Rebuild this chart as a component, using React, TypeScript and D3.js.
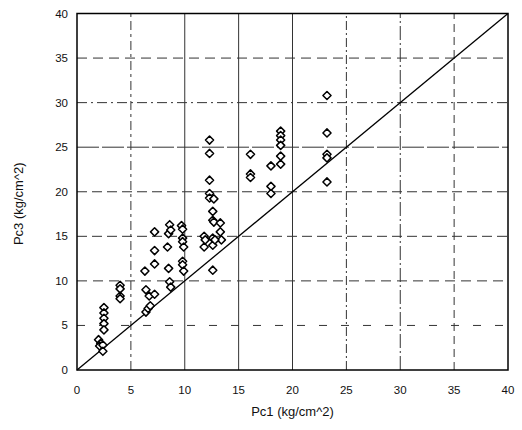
import React from "react";
import * as d3 from "d3";

const pc1: number[] = [
  2.0, 2.2, 2.1, 2.4, 2.4,
  2.5, 2.5, 2.5, 2.5, 2.5,
  4.0, 4.0, 4.0, 4.0,
  6.3, 6.4, 6.7, 7.2, 6.4, 6.6, 6.8, 7.2, 7.2, 7.2,
  8.4, 8.5, 8.6, 8.7, 8.5, 8.6, 8.7,
  9.7, 9.8, 9.8, 9.8, 9.9, 9.8, 9.8, 9.9,
  12.3, 12.3, 12.3, 12.3, 12.3, 12.7, 12.6, 12.6, 12.7, 13.3, 13.3, 13.4, 11.8, 11.8, 11.9, 12.6, 12.6, 12.8, 12.6,
  16.1, 16.1, 16.1,
  18.0, 18.0, 18.0,
  18.9, 18.9, 18.9, 18.9, 18.9, 18.9,
  23.2, 23.2, 23.2, 23.2, 23.2,
];
const pc3: number[] = [
  3.4, 3.0, 2.7, 2.8, 2.1,
  7.0, 6.4, 5.8, 5.2, 4.5,
  9.5, 9.1, 8.3, 8.0,
  11.1, 9.0, 8.3, 8.5, 6.5, 6.9, 7.2, 15.5, 13.4, 11.9,
  13.8, 15.3, 16.3, 15.7, 11.4, 9.9, 9.3,
  16.2, 15.8, 14.8, 14.4, 13.8, 12.2, 11.8, 11.1,
  25.8, 24.3, 21.3, 19.8, 19.3, 19.2, 17.8, 16.8, 16.6, 16.5, 15.5, 14.6, 15.0, 13.8, 14.6, 14.8, 14.0, 14.6, 11.2,
  24.2, 22.0, 21.6,
  22.9, 20.6, 19.8,
  26.8, 26.3, 25.8, 25.2, 24.0, 23.1,
  30.8, 26.6, 24.2, 23.8, 21.1,
];
const ticks: number[] = [0, 5, 10, 15, 20, 25, 30, 35, 40];
const vGridDash: string[] = ["", "9,4,3,4", "", "", "", "9,3,2,3", "14,3,2,3", "8,5", ""];
const hGridDash: string[] = ["", "8,14", "10,6", "10,5", "10,5", "22,3", "10,4,2,4", "10,6", ""];
const xTitle = "Pc1 (kg/cm^2)";
const yTitle = "Pc3 (kg/cm^2)";

export default function App() {
  const W = 522, H = 430;
  const x0 = 77, x1 = 508, y0 = 370, y1 = 13.5;
  const x = d3.scaleLinear().domain([0, 40]).range([x0, x1]);
  const y = d3.scaleLinear().domain([0, 40]).range([y0, y1]);
  const diamond = d3.symbol().type(d3.symbolDiamond2).size(42)() as string;
  const font = "Liberation Sans, Arial, sans-serif";
  return (
    <svg width={W} height={H} style={{ position: "absolute", left: 0, top: 0, background: "#fff" }}>
      {ticks.slice(1, -1).map((t, i) => (
        <line key={"v" + t} x1={x(t)} x2={x(t)} y1={y(0)} y2={y(40)} stroke="#333" strokeWidth={1} strokeDasharray={vGridDash[i + 1]} />
      ))}
      {ticks.slice(1, -1).map((t, i) => (
        <line key={"h" + t} x1={x(0)} x2={x(40)} y1={y(t)} y2={y(t)} stroke="#333" strokeWidth={1} strokeDasharray={hGridDash[i + 1]} />
      ))}
      <line x1={x(0)} y1={y(0)} x2={x(40)} y2={y(40)} stroke="#000" strokeWidth={1.3} />
      <rect x={x0} y={y1} width={x1 - x0} height={y0 - y1} fill="none" stroke="#000" strokeWidth={1.5} />
      {pc1.map((v, i) => (
        <path key={"p" + i} d={diamond} transform={`translate(${x(v)},${y(pc3[i])})`} fill="#fff" stroke="#000" strokeWidth={1.5} strokeLinejoin="round" />
      ))}
      {ticks.map((t) => (
        <text key={"xt" + t} x={x(t)} y={y0 + 24} textAnchor="middle" fontFamily={font} fontSize={11.5} fill="#111">{t}</text>
      ))}
      {ticks.map((t) => (
        <text key={"yt" + t} x={x0 - 9} y={y(t) + 4} textAnchor="end" fontFamily={font} fontSize={11.5} fill="#111">{t}</text>
      ))}
      <text x={(x0 + x1) / 2} y={416} textAnchor="middle" fontFamily={font} fontSize={13} fill="#111">{xTitle}</text>
      <text transform={`translate(23,${(y0 + y1) / 2 + 12}) rotate(-90)`} textAnchor="middle" fontFamily={font} fontSize={13} fill="#111">{yTitle}</text>
    </svg>
  );
}
